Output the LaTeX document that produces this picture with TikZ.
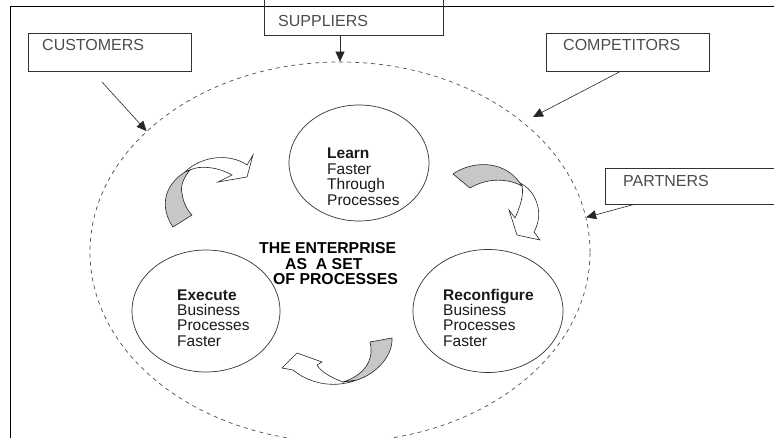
\documentclass[tikz,border=0pt]{standalone}
\usepackage{fontspec}
\setmainfont{Liberation Sans}
\usetikzlibrary{shapes.geometric,arrows.meta,calc}

\tikzset{
  outline/.style={draw=black!80, line width=0.7pt},
  sidebox/.style={outline, rectangle, inner sep=0pt, anchor=north west},
  boxlabel/.style={anchor=base west, inner sep=0pt, text=black!70,
    font=\fontsize{16}{18}\selectfont},
  process/.style={outline, ellipse, inner sep=0pt},
  proctext/.style={anchor=base west, inner sep=0pt, text=black!90, align=left,
    font=\fontsize{15.5}{15.5}\selectfont},
  settext/.style={anchor=base west, inner sep=0pt, align=left,
    font=\fontsize{15.8}{15.5}\selectfont\bfseries},
  feed/.style={draw=black!85, line width=0.6pt, -{Triangle[length=10pt,width=9pt]}},
  ribbon/.style={draw=black!85, line width=0.6pt, fill=white},
  ribbonback/.style={ribbon, fill=black!22},
}

\begin{document}
\begin{tikzpicture}[x=1pt,y=-1pt]
  \useasboundingbox (0,0) rectangle (774,438);
  \clip (0,0) rectangle (774,438);

  % frame
  \draw[line width=0.8pt] (10,450) -- (10,6) -- (790,6);

  % the enterprise
  \node[ellipse, draw=black!70, line width=0.7pt, dash pattern=on 4pt off 4pt,
    inner sep=0pt, minimum width=500pt, minimum height=380pt] (enterprise) at (340,252) {};

  % processes
  \node[process, minimum width=140pt, minimum height=116pt] (learn) at (359,163) {};
  \node[process, minimum width=148pt, minimum height=122pt] (execute) at (206,311) {};
  \node[process, minimum width=150pt, minimum height=123pt] (reconfigure) at (488,311) {};

  % (base = last line)
  \node[proctext] (learn-text) at (327,205.5)
    {\textbf{Learn}\\Faster\\Through\\Processes};
  \node[proctext] (execute-text) at (177,346.5)
    {\textbf{Execute}\\Business\\Processes\\Faster};
  \node[proctext] (reconfigure-text) at (443,346.5)
    {\textbf{Reconfigure}\\Business\\Processes\\Faster};
  \node[settext] (set-text) at (259,285)
    {THE ENTERPRISE\\\hspace*{26pt}AS\ \ A SET\\\hspace*{14pt}OF PROCESSES};

  % outside parties
  \node[sidebox, minimum width=163pt, minimum height=38pt] (customers) at (28,33) {};
  \node[boxlabel] (customers-label) at (42,50.7) {CUSTOMERS};
  \node[sidebox, minimum width=179pt, minimum height=42pt] (suppliers) at (264,-7) {};
  \node[boxlabel] (suppliers-label) at (278,26.7) {SUPPLIERS};
  \node[sidebox, minimum width=163pt, minimum height=38pt] (competitors) at (546,33) {};
  \node[boxlabel] (competitors-label) at (563,50.7) {COMPETITORS};
  \node[sidebox, minimum width=180pt, minimum height=36pt] (partners) at (605,168) {};
  \node[boxlabel] (partners-label) at (623,186.7) {PARTNERS};

  % influences
  \coordinate (customers-tail) at (102,82);
  \coordinate (competitors-tip) at (533,117);
  \draw[feed] (customers-tail) -- (enterprise.148);
  \draw[feed] (suppliers.south -| enterprise.north) -- (enterprise.north);
  \draw[feed] ($(competitors.south)+(-8,0)$) -- (competitors-tip);
  \draw[feed] ($(partners.south west)+(28,0)$) -- (enterprise.8);

  % cycle arrows
  \draw[ribbon] (185,172) .. controls (200,157) and (228,152) .. (247,165)
    -- (253,155) -- (247,177) -- (218,182) -- (232,175)
    .. controls (218,167) and (200,165) .. (190,170) -- cycle;
  \draw[ribbonback] (173,227) .. controls (160,208) and (163,186) .. (185,172)
    -- (190,170) .. controls (184,177) and (180,186) .. (182,193)
    .. controls (183,203) and (188,211) .. (192,215) -- cycle;

  \draw[ribbon] (520,183) .. controls (535,190) and (545,212) .. (534,232)
    -- (540,240) -- (517,235) -- (509,210) -- (515,218)
    .. controls (520,207) and (524,195) .. (522,186) -- cycle;
  \draw[ribbonback] (453,174) .. controls (470,162) and (502,158) .. (520,183)
    -- (522,186) .. controls (505,177) and (485,179) .. (470,188) -- cycle;

  \draw[ribbon] (343,382) .. controls (332,378) and (321,372) .. (317,365)
    -- (322,362) -- (297,353) -- (282,368) -- (293,370)
    .. controls (306,381) and (330,390) .. (357,380) -- cycle;
  \draw[ribbonback] (370,342) -- (392,338) .. controls (393,356) and (376,374) .. (357,380)
    -- (343,382) .. controls (362,376) and (375,362) .. (370,342) -- cycle;
\end{tikzpicture}
\end{document}
